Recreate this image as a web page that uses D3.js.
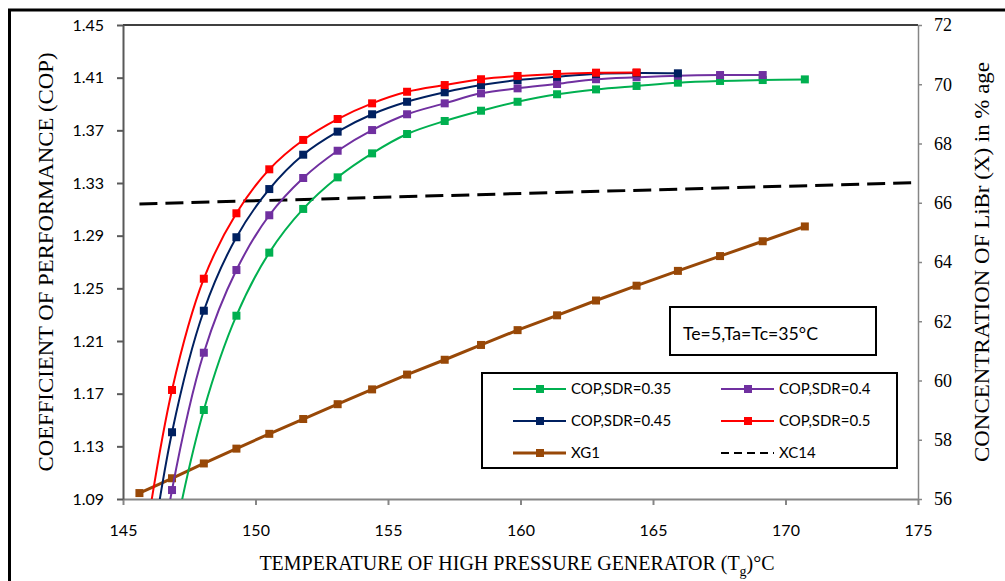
<!DOCTYPE html>
<html>
<head>
<meta charset="utf-8">
<script src="https://cdn.jsdelivr.net/npm/d3@7"></script>
<style>
  body { margin: 0; background: #fff; }
  svg { display: block; }
  .tick text { fill: #000; }
</style>
</head>
<body>
<div id="chart"></div>
<script>
// Generator temperatures (x values of the markers)
const temps = [145.62, 146.85, 148.05, 149.28, 150.52, 151.80, 153.10, 154.40, 155.72, 157.14,
               158.51, 159.89, 161.38, 162.85, 164.38, 165.94, 167.53, 169.14, 170.73];

// COP for each SDR (values below 1.09 fall outside the plot and get clipped)
const copSDR035 = [0.90, 1.052, 1.1576, 1.2292, 1.2771, 1.3103, 1.3343, 1.3525, 1.3672, 1.3771,
                   1.3849, 1.3917, 1.3974, 1.4011, 1.4037, 1.4062, 1.4075, 1.4082, 1.4087];
const copSDR04  = [0.93, 1.0968, 1.2011, 1.2639, 1.3055, 1.3338, 1.3545, 1.3702, 1.3822, 1.3905,
                   1.3981, 1.4019, 1.4052, 1.4088, 1.4103, 1.4115, 1.4120, 1.4120];
const copSDR045 = [0.987, 1.1407, 1.2330, 1.2888, 1.3254, 1.3515, 1.3690, 1.3822, 1.3917, 1.3989,
                   1.4044, 1.4082, 1.4107, 1.4128, 1.4135, 1.4133];
const copSDR05  = [1.03, 1.1728, 1.2573, 1.3070, 1.3404, 1.3627, 1.3786, 1.3905, 1.3993, 1.4044,
                   1.4088, 1.4113, 1.4128, 1.4138, 1.4140];

// LiBr concentration (right axis)
const xg1 = [56.2, 56.7, 57.2, 57.7, 58.2, 58.7, 59.2, 59.7, 60.2, 60.7,
             61.2, 61.7, 62.2, 62.7, 63.2, 63.7, 64.2, 64.7, 65.2];
const xc14Temps = [145.62, 175];
const xc14 = [65.96, 66.68];

// tick labels
const xTicks = [145, 150, 155, 160, 165, 170, 175];
const copTicks = [1.09, 1.13, 1.17, 1.21, 1.25, 1.29, 1.33, 1.37, 1.41, 1.45];
const concTicks = [56, 58, 60, 62, 64, 66, 68, 70, 72];

const width = 1005;
const height = 581;
const plotLeft = 123, plotRight = 918, plotTop = 25, plotBottom = 499;

const svg = d3.select("#chart").append("svg")
    .attr("width", width)
    .attr("height", height);

// outer frame
svg.append("rect")
    .attr("x", 9.5).attr("y", 10)
    .attr("width", 1100).attr("height", 700)
    .attr("fill", "none").attr("stroke", "#000").attr("stroke-width", 3);

const x = d3.scaleLinear().domain([145, 175]).range([plotLeft, plotRight]);
const yCop = d3.scaleLinear().domain([1.09, 1.45]).range([plotBottom, plotTop]);
const yConc = d3.scaleLinear().domain([56, 72]).range([plotBottom, plotTop]);

svg.append("clipPath").attr("id", "plot-clip")
    .append("rect")
    .attr("x", plotLeft).attr("y", plotTop)
    .attr("width", plotRight - plotLeft).attr("height", plotBottom - plotTop);

// top border of plot area
svg.append("line")
    .attr("x1", plotLeft).attr("x2", plotRight)
    .attr("y1", plotTop).attr("y2", plotTop)
    .attr("stroke", "#000").attr("stroke-width", 1.5);

// axes
const tickFont = "Lato, 'Open Sans', sans-serif";
const serif = "'Liberation Serif', 'DejaVu Serif', serif";

const xAxis = svg.append("g")
    .attr("transform", `translate(0,${plotBottom})`)
    .call(d3.axisBottom(x).tickValues(xTicks).tickSize(6).tickSizeOuter(0).tickPadding(20));
xAxis.selectAll("text").style("font-family", tickFont).style("font-size", "16px");

const yAxisL = svg.append("g")
    .attr("transform", `translate(${plotLeft},0)`)
    .call(d3.axisLeft(yCop).tickValues(copTicks).tickFormat(d3.format(".2f"))
        .tickSize(6).tickSizeOuter(0).tickPadding(13));
yAxisL.selectAll("text").style("font-family", tickFont).style("font-size", "16px");

const yAxisR = svg.append("g")
    .attr("transform", `translate(${plotRight},0)`)
    .call(d3.axisRight(yConc).tickValues(concTicks).tickSize(4).tickSizeOuter(0).tickPadding(12));
yAxisR.selectAll("text").style("font-family", serif).style("font-size", "18px");

xAxis.selectAll("path,line").attr("stroke", "#868686").attr("stroke-width", 2);
yAxisL.selectAll("path,line").attr("stroke", "#595959").attr("stroke-width", 2);
yAxisR.selectAll("path,line").attr("stroke", "#868686").attr("stroke-width", 1.5);

// series
const copSeries = [
    { name: "COP,SDR=0.35", values: copSDR035, color: "#00b050" },
    { name: "COP,SDR=0.4", values: copSDR04, color: "#7030a0" },
    { name: "COP,SDR=0.45", values: copSDR045, color: "#002060" },
    { name: "COP,SDR=0.5", values: copSDR05, color: "#ff0000" }
];

const plot = svg.append("g").attr("clip-path", "url(#plot-clip)");

// XG1 concentration line
const xg1Pts = xg1.map((v, i) => [temps[i], v]);
plot.append("path")
    .datum(xg1Pts)
    .attr("fill", "none")
    .attr("stroke", "#984807")
    .attr("stroke-width", 3)
    .attr("d", d3.line().x(d => x(d[0])).y(d => yConc(d[1])));
plot.selectAll("rect.xg1")
    .data(xg1Pts)
    .enter().append("rect")
    .attr("class", "xg1")
    .attr("x", d => x(d[0]) - 4).attr("y", d => yConc(d[1]) - 4)
    .attr("width", 8).attr("height", 8)
    .attr("fill", "#984807");

// XC14 dashed line
plot.append("path")
    .datum(xc14.map((v, i) => [xc14Temps[i], v]))
    .attr("fill", "none")
    .attr("stroke", "#000")
    .attr("stroke-width", 3)
    .attr("stroke-dasharray", "18,8")
    .attr("d", d3.line().x(d => x(d[0])).y(d => yConc(d[1])));

const copLine = d3.line()
    .x(d => x(d[0]))
    .y(d => yCop(d[1]))
    .curve(d3.curveCatmullRom.alpha(0.5));

copSeries.forEach(s => {
    const pts = s.values.map((v, i) => [temps[i], v]);
    plot.append("path")
        .datum(pts)
        .attr("fill", "none")
        .attr("stroke", s.color)
        .attr("stroke-width", 2)
        .attr("d", copLine);
    plot.selectAll(null)
        .data(pts)
        .enter().append("rect")
        .attr("x", d => x(d[0]) - 4).attr("y", d => yCop(d[1]) - 4)
        .attr("width", 8).attr("height", 8)
        .attr("fill", s.color);
});

// axis titles
svg.append("text")
    .attr("x", 517).attr("y", 570)
    .attr("text-anchor", "middle")
    .style("font-family", serif).style("font-size", "20px")
    .html('TEMPERATURE OF HIGH PRESSURE GENERATOR (T<tspan dy="6" font-size="14px">g</tspan><tspan dy="-6">)°C</tspan>');

svg.append("text")
    .attr("transform", "translate(53,262) rotate(-90)")
    .attr("text-anchor", "middle")
    .attr("textLength", 419).attr("lengthAdjust", "spacingAndGlyphs")
    .style("font-family", serif).style("font-size", "20px")
    .text("COEFFICIENT OF PERFORMANCE (COP)");

svg.append("text")
    .attr("transform", "translate(989,262) rotate(-90)")
    .attr("text-anchor", "middle")
    .attr("textLength", 400).attr("lengthAdjust", "spacingAndGlyphs")
    .style("font-family", serif).style("font-size", "20px")
    .text("CONCENTRATION OF LiBr (X) in % age");

// condition note
svg.append("rect")
    .attr("x", 670).attr("y", 307)
    .attr("width", 206).attr("height", 48)
    .attr("fill", "#fff").attr("stroke", "#000").attr("stroke-width", 2);
svg.append("text")
    .attr("x", 683).attr("y", 340)
    .attr("textLength", 135).attr("lengthAdjust", "spacingAndGlyphs")
    .style("font-family", tickFont).style("font-size", "17px")
    .text("Te=5,Ta=Tc=35°C");

// legend
const legend = svg.append("g");
legend.append("rect")
    .attr("x", 482).attr("y", 373)
    .attr("width", 415).attr("height", 95)
    .attr("fill", "#fff").attr("stroke", "#000").attr("stroke-width", 2);

const legendItems = [
    { name: "COP,SDR=0.35", color: "#00b050", col: 0, row: 0 },
    { name: "COP,SDR=0.4", color: "#7030a0", col: 1, row: 0 },
    { name: "COP,SDR=0.45", color: "#002060", col: 0, row: 1 },
    { name: "COP,SDR=0.5", color: "#ff0000", col: 1, row: 1 },
    { name: "XG1", color: "#984807", col: 0, row: 2 },
    { name: "XC14", color: "#000", col: 1, row: 2, dashed: true }
];
const colX = [513, 721];
const rowY = [389, 421, 453];
legendItems.forEach(it => {
    const lx = colX[it.col], ly = rowY[it.row];
    legend.append("line")
        .attr("x1", lx).attr("x2", lx + 53)
        .attr("y1", ly).attr("y2", ly)
        .attr("stroke", it.color)
        .attr("stroke-width", it.name === "XG1" ? 3 : 2)
        .attr("stroke-dasharray", it.dashed ? "8,5" : null);
    if (!it.dashed) {
        legend.append("rect")
            .attr("x", lx + 23).attr("y", ly - 4)
            .attr("width", 8).attr("height", 8)
            .attr("fill", it.color);
    }
    legend.append("text")
        .attr("x", lx + 58).attr("y", ly + 5)
        .style("font-family", tickFont).style("font-size", "15px")
        .text(it.name);
});
</script>
</body>
</html>
